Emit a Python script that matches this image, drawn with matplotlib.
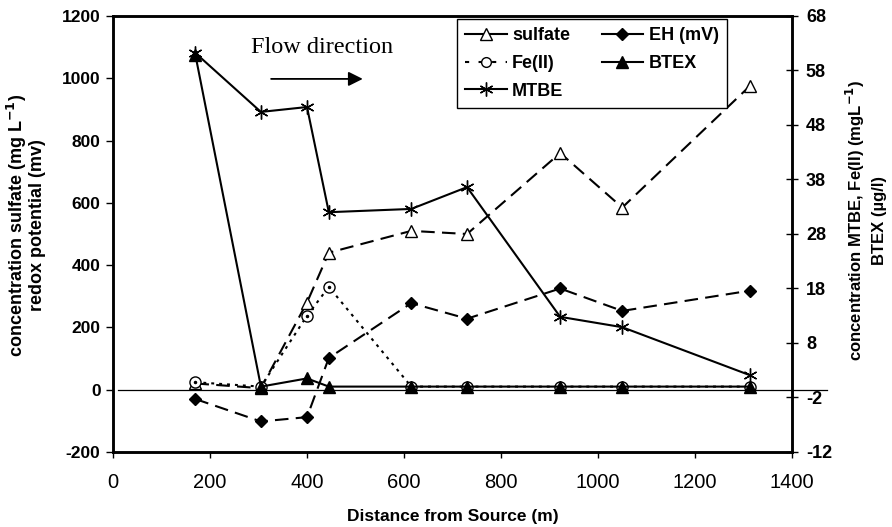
import matplotlib
matplotlib.use("Agg")
import matplotlib.pyplot as plt
from matplotlib.lines import Line2D

plt.rcParams['font.family'] = ['Liberation Sans', 'DejaVu Sans']
plt.rcParams['axes.unicode_minus'] = False

# ---- data ----
distance = [170, 305, 400, 445, 615, 730, 922, 1050, 1313]
sulfate = [20, 5, 280, 440, 510, 500, 760, 585, 975]          # left axis
eh = [-30, -102, -88, 102, 278, 228, 325, 253, 318]            # left axis
fe2 = [0.8, 0.0, 13.0, 18.3, 0.0, 0.0, 0.0, 0.0, 0.0]          # right axis
btex = [60.8, 0.0, 1.5, 0.0, 0.0, 0.0, 0.0, 0.0, 0.0]          # right axis
mtbe = [61.2, 50.4, 51.3, 32.0, 32.6, 36.6, 12.8, 10.9, 2.1]   # right axis

x_ticks = [0, 200, 400, 600, 800, 1000, 1200, 1400]
left_ticks = [-200, 0, 200, 400, 600, 800, 1000, 1200]
right_ticks = [-12, -2, 8, 18, 28, 38, 48, 58, 68]

fig = plt.figure(figsize=(8.92, 5.27), dpi=100)
ax = fig.add_axes([113/892, 1-452/527, (792-113)/892, (452-16)/527])
ax2 = ax.twinx()

lw = 1.5
# left-axis series
ax.plot(distance, sulfate, color='black', lw=lw, dashes=(6.5, 3.5),
        marker='^', markersize=8, markerfacecolor='white',
        markeredgecolor='black', markeredgewidth=1, zorder=3)
ax.plot(distance, eh, color='black', lw=lw, dashes=(6.5, 3.5),
        marker='D', markersize=6.5, markerfacecolor='black',
        markeredgecolor='black', zorder=3)

# right-axis series
ax2.plot(distance, fe2, color='black', lw=lw, dashes=(1.4, 2.4),
         marker='o', markersize=8, markerfacecolor='white',
         markeredgecolor='black', markeredgewidth=1, zorder=3)
ax2.plot(distance, fe2, ls='none', marker='o', markersize=1.5, color='black', zorder=4)
ax2.plot(distance, btex, color='black', lw=lw, marker='^', markersize=8,
         markerfacecolor='black', markeredgecolor='black', zorder=3)
ax2.plot(distance, mtbe, color='black', lw=lw, marker=(6, 2, 0), markersize=10,
         markeredgewidth=1, markeredgecolor='black', zorder=3)

# zero line (extends slightly beyond the plot box)
ax.plot([10, 1472], [0, 0], color='black', lw=0.9, clip_on=False, zorder=2)

ax.set_xlim(0, 1400)
ax.set_ylim(-200, 1200)
ax2.set_ylim(-12, 68)
ax.set_xticks(x_ticks)
ax.set_yticks(left_ticks)
ax2.set_yticks(right_ticks)

ax.tick_params(axis='x', labelsize=14.5, direction='out', length=4, width=1, pad=11)
ax.tick_params(axis='y', labelsize=12.5, direction='out', length=5, width=1, pad=4)
ax2.tick_params(axis='y', labelsize=13, direction='inout', length=8, width=1, pad=6)
for lab in ax.get_yticklabels() + ax2.get_yticklabels():
    lab.set_fontweight('bold')

for a in (ax, ax2):
    for s in a.spines.values():
        s.set_linewidth(1.8)

ax.set_xlabel('Distance from Source (m)', fontsize=12.5, fontweight='bold')
ax.xaxis.set_label_coords(0.5, -0.13)
ax.set_ylabel('concentration sulfate (mg L$^{\\mathbf{-1}}$)\nredox potential (mv)',
              fontsize=13, fontweight='bold', linespacing=1.0)
ax.yaxis.set_label_coords(-0.0985, 0.52)
ax2.set_ylabel('concentration MTBE, Fe(II) (mgL$^{\\mathbf{-1}}$)\nBTEX (µg/l)',
               fontsize=12, fontweight='bold', linespacing=1.35)
ax2.yaxis.set_label_coords(1.077, 0.532)

# flow direction annotation
ax.text(284, 1081, 'Flow direction', fontsize=17.5, family='Liberation Serif',
        ha='left', va='baseline')
ax.annotate('', xy=(515, 998), xytext=(326, 998),
            arrowprops=dict(arrowstyle='-|>,head_length=0.86,head_width=0.43',
                            color='black', lw=1.3, mutation_scale=10,
                            shrinkA=0, shrinkB=0))

# legend proxies (short segments look solid in the legend)
h_sul = Line2D([], [], color='black', lw=lw, marker='^', markersize=8,
               markerfacecolor='white', markeredgecolor='black', markeredgewidth=1)
h_fe = Line2D([], [], color='black', lw=lw, dashes=(2, 4.5), marker='o', markersize=7,
              markerfacecolor='white', markeredgecolor='black', markeredgewidth=1)
h_mtbe = Line2D([], [], color='black', lw=lw, marker=(6, 2, 0), markersize=10,
                markeredgewidth=1, markeredgecolor='black')
h_eh = Line2D([], [], color='black', lw=lw, marker='D', markersize=6.5,
              markerfacecolor='black', markeredgecolor='black')
h_btex = Line2D([], [], color='black', lw=lw, marker='^', markersize=8,
                markerfacecolor='black', markeredgecolor='black')
labels = ['sulfate', 'Fe(II)', 'MTBE', 'EH (mV)', 'BTEX']
leg = ax2.legend([h_sul, h_fe, h_mtbe, h_eh, h_btex], labels, ncol=2, loc='upper left',
                 bbox_to_anchor=(457/892, 1-19/527), bbox_transform=fig.transFigure,
                 borderaxespad=0, frameon=True, fancybox=False, framealpha=1,
                 edgecolor='black', prop={'weight': 'bold', 'size': 13},
                 handlelength=2.3, handletextpad=0.3, columnspacing=1.75,
                 labelspacing=0.6, borderpad=0.45)
leg.get_frame().set_linewidth(1)

fig.savefig('out.png', dpi=100)
